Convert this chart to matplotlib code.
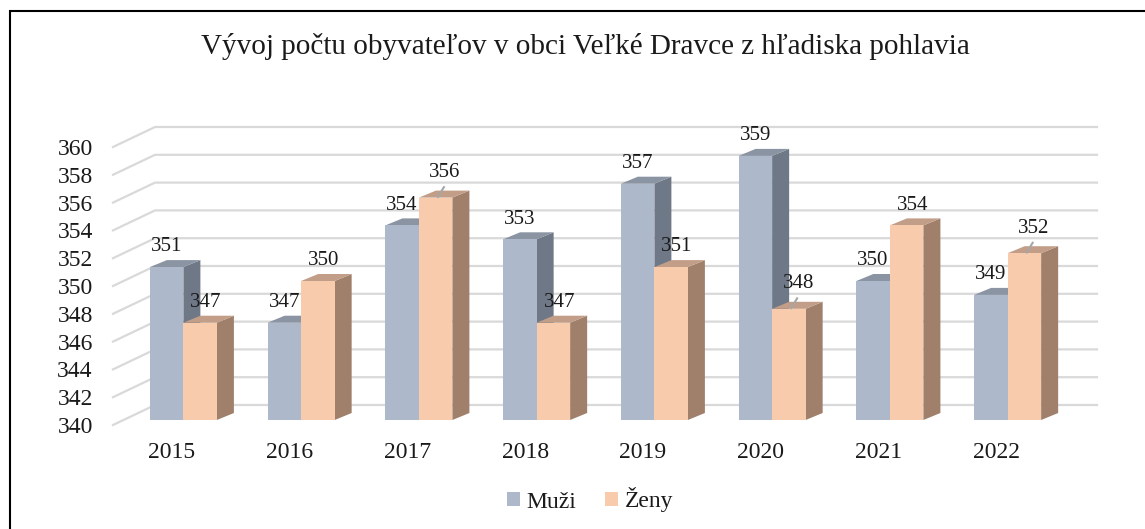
import matplotlib.pyplot as plt
from matplotlib.patches import Polygon, Rectangle, Patch

# data
years = ["2015", "2016", "2017", "2018", "2019", "2020", "2021", "2022"]
muzi = [351, 347, 354, 353, 357, 359, 350, 349]
zeny = [347, 350, 356, 347, 351, 348, 354, 352]
y_ticks = list(range(340, 361, 2))

W, H = 1145, 529
PX_X = 117.7   # pixels per category
PX_Y = 13.9    # pixels per value unit

FONT = "Liberation Serif"
plt.rcParams["font.family"] = [FONT, "DejaVu Serif"]

C_M = ("#ADB9CA", "#6F7886", "#8A94A2")   # front, side, top
C_Z = ("#F8CBAD", "#A0806B", "#C29E88")
GRID = "#D9D9D9"
TXT = "#1a1a1a"


def off(dx_px, dy_px):
    """pixel offset (right, up) -> data offset"""
    return dx_px / PX_X, dy_px / PX_Y


fig = plt.figure(figsize=(W / 100, H / 100), dpi=100)
ax = fig.add_axes([113 / W, 1 - 425 / H, (1055 - 113) / W, (425 - 147) / H])
ax.set_xlim(-0.5, 7.5)
ax.set_ylim(340, 360)
ax.set_facecolor("none")
for s in ax.spines.values():
    s.set_visible(False)

# back wall gridlines with the diagonal from the front plane
bx, by = off(42, 20)
for v in y_ticks:
    ax.plot([-0.5, -0.5 + bx, 7.5 + bx], [v, v + by, v + by],
            color=GRID, lw=1.6, clip_on=False, zorder=1)

# 3D-ish bars
fx, fy = off(11.5, 5)     # bar front face offset from front plane
dx, dy = off(17, 7)       # bar depth
bw = 33.5 / PX_X
base = y_ticks[0]


def bar3d(x0, x1, top, cols, z):
    b, t = base + fy, top + fy
    side = [(x1, b), (x1, t), (x1 + dx, t + dy), (x1 + dx, b + dy)]
    lid = [(x0, t), (x1, t), (x1 + dx, t + dy), (x0 + dx, t + dy)]
    ax.add_patch(Polygon(side, closed=True, fc=cols[1], ec="none", zorder=z, clip_on=False))
    ax.add_patch(Polygon(lid, closed=True, fc=cols[2], ec="none", zorder=z, clip_on=False))
    ax.add_patch(Rectangle((x0, b), x1 - x0, t - b, fc=cols[0], ec="none", zorder=z + 0.5, clip_on=False))


leader = [2, 5, 7]
for i in range(len(years)):
    c = i + fx
    bar3d(c - bw, c, muzi[i], C_M, 2 + i)
    bar3d(c, c + bw, zeny[i], C_Z, 2.6 + i)
    ax.text(c - bw / 2, muzi[i] + fy + 1.45, str(muzi[i]), ha="center", va="center",
            fontsize=15, color=TXT, zorder=20)
    zx = c + bw / 2 + 0.05
    zy = zeny[i] + fy + 1.45
    if i in leader:
        zy += 0.35
        zx += 0.03
        ax.plot([c + bw / 2 + 0.02, c + bw / 2 + 0.07],
                [zeny[i] + fy + 0.05, zeny[i] + fy + 0.75],
                color="#A6A6A6", lw=1.5, zorder=19, clip_on=False)
    ax.text(zx, zy, str(zeny[i]), ha="center", va="center",
            fontsize=15, color=TXT, zorder=20)

ax.set_yticks(y_ticks)
ax.set_yticklabels([str(v) for v in y_ticks], fontsize=17, color=TXT)
ax.set_xticks(range(len(years)))
ax.set_xticklabels(years, fontsize=17, color=TXT)
ax.tick_params(axis="y", length=0, pad=14.5)
ax.tick_params(axis="x", length=0, pad=12.5)

fig.text(585 / W, 1 - 47 / H, "Vývoj počtu obyvateľov v obci Veľké Dravce z hľadiska pohlavia",
         ha="center", va="center", fontsize=21, color=TXT)

handles = [Patch(fc=C_M[0], ec="none", label="Muži"), Patch(fc=C_Z[0], ec="none", label="Ženy")]
fig.legend(handles=handles, loc="center", bbox_to_anchor=(590 / W, 1 - 500 / H), ncol=2,
           frameon=False, fontsize=17, handlelength=0.55, handleheight=0.55,
           handletextpad=0.3, columnspacing=1.2, labelcolor=TXT)

# outer chart frame (only top and left edges are inside the picture)
fig.add_artist(Rectangle((10 / W, -0.1), 1.2, 1.1 - 11 / H, transform=fig.transFigure,
                         fill=False, ec="black", lw=1.5))

fig.savefig("out.png", dpi=100, facecolor="white")
